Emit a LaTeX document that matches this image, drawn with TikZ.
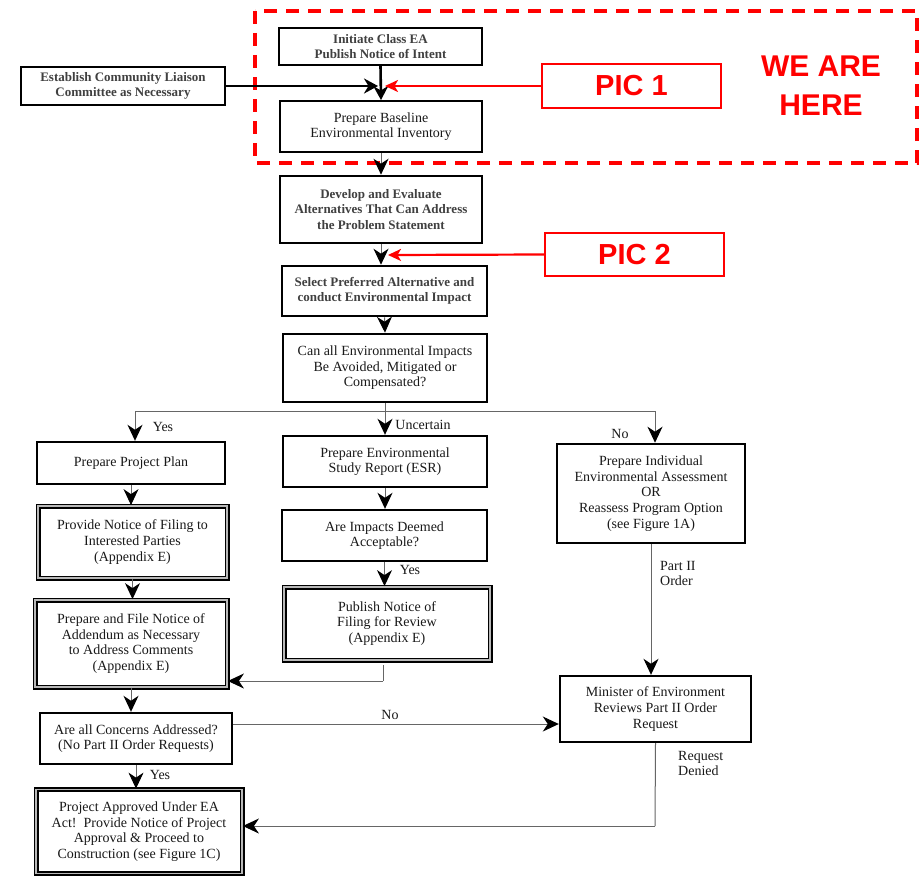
\documentclass[tikz,border=0pt]{standalone}
\usepackage{fontspec}
\setmainfont{Liberation Serif}
\newfontfamily\picfont{Liberation Sans}
\usetikzlibrary{arrows.meta}
\begin{document}
\begin{tikzpicture}[x=1pt,y=-1pt,
  box/.style={draw=black, line width=#1, align=center, inner sep=0pt, text=black!90,
    font=\fontsize{14}{15.6}\selectfont},
  box/.default=2pt,
  bbox/.style={box=#1, font=\fontsize{13}{15.4}\selectfont\bfseries, text=black!75},
  bbox/.default=2pt,
  dbox/.style={draw=black, double=gray!55, double distance=1.4pt, line width=1.8pt,
    align=center, inner sep=0pt, text=black!90, font=\fontsize{14}{15.6}\selectfont},
  sz/.style 2 args={minimum width=#1pt, minimum height=#2pt},
  conn/.style={draw=black!60, line width=1pt},
  arr/.style={conn, -{Stealth[length=16pt,width=15pt,inset=5pt,color=black]}},
  tarr/.style={draw=black, line width=2.6pt, -{Stealth[length=14pt,width=15pt,inset=4.5pt]}},
  rarr/.style={draw=red, line width=2.2pt, -{Stealth[length=13pt,width=12pt,inset=3.5pt]}},
  picbox/.style={draw=red, line width=2pt, text=red, inner sep=0pt,
    font=\picfont\fontsize{29}{34}\selectfont\bfseries},
  lab/.style={inner sep=0pt, text=black!90, font=\fontsize{14}{15}\selectfont, align=left}
]
\useasboundingbox (0,0) rectangle (920,875);
\fill[white] (0,0) rectangle (920,875);

% dashed frame
\draw[red, line width=4pt, dash pattern=on 13pt off 9pt] (255,11) rectangle (917,163);

% nodes
\node[bbox, sz={203}{37}] (init) at (380.5,46.5) {Initiate Class EA\\Publish Notice of Intent};
\node[bbox, sz={204}{38}] (estab) at (123,86) {Establish Community Liaison\\Committee as Necessary};
\node[box, sz={202}{51}] (base) at (381,126.5) {Prepare Baseline\\Environmental Inventory};
\node[bbox=2.6pt, sz={202}{67}] (dev) at (381,209.5) {Develop and Evaluate\\Alternatives That Can Address\\the Problem Statement};
\node[bbox=2.6pt, sz={205}{50}] (sel) at (384.5,291) {Select Preferred Alternative and\\conduct Environmental Impact};
\node[box=2.6pt, sz={204}{68}] (can) at (385,368) {Can all Environmental Impacts\\Be Avoided, Mitigated or\\Compensated?};
\node[box=2.4pt, sz={188}{42}] (plan) at (131,463) {Prepare Project Plan};
\node[dbox, sz={189}{72}] (prov) at (132.5,542) {Provide Notice of Filing to\\Interested Parties\\(Appendix E)};
\node[dbox, sz={192}{87}] (file) at (131,643.5) {Prepare and File Notice of\\Addendum as Necessary\\to Address Comments\\(Appendix E)};
\node[box=2.4pt, sz={192}{51}] (conc) at (136,738.5) {Are all Concerns Addressed?\\(No Part II Order Requests)};
\node[dbox, sz={206}{84}] (appr) at (139,831.5) {Project Approved Under EA\\Act!\ \ Provide Notice of Project\\Approval \& Proceed to\\Construction (see Figure 1C)};
\node[box=2.4pt, sz={204}{51}] (esr) at (385,461.5) {Prepare Environmental\\Study Report (ESR)};
\node[box=2.4pt, sz={205}{51}] (acc) at (384.5,535.5) {Are Impacts Deemed\\Acceptable?};
\node[dbox, sz={206}{73}] (pub) at (387,623.5) {Publish Notice of\\Filing for Review\\(Appendix E)};
\node[box=2.6pt, sz={188}{99}] (ind) at (651,493.5) {Prepare Individual\\Environmental Assessment\\OR\\Reassess Program Option\\(see Figure 1A)};
\node[box=2.4pt, sz={191}{66}] (min) at (655.5,709) {Minister of Environment\\Reviews Part II Order\\Request};

\node[picbox, sz={179}{44}] (pic1) at (631.5,86) {PIC 1};
\node[picbox, sz={179}{43}] (pic2) at (634.5,254.5) {PIC 2};
\node[inner sep=0pt, text=red, align=center, font=\picfont\fontsize{30}{39}\selectfont\bfseries] (here) at (821,86) {WE ARE\\HERE};

% top connectors
\draw[tarr] (init.south) -- (base.north);
\coordinate (ej) at (378,86);
\draw[tarr] (estab.east) -- (ej);
\coordinate (p1j) at (385,86);
\draw[rarr] (pic1.west) -- (p1j);
\draw[arr] (base.south) -- (dev.north);
\draw[arr] (dev.south) -- (sel.north -| dev.south);
\coordinate (p2j) at (388,255);
\draw[rarr] (pic2.west) -- (p2j);
\draw[arr] (sel.south) -- (can.north);

% branch
\coordinate (bl) at (135,411);
\coordinate (br) at (655,411);
\draw[arr] (can.south) -- (esr.north);
\draw[conn] (bl) -- (br);
\draw[arr] (bl) -- (bl |- plan.north);
\draw[arr] (br) -- (br |- ind.north);
\node[lab] (yes1) at (163,427) {Yes};
\node[lab] (unc) at (423,425) {Uncertain};
\node[lab] (no1) at (620,434) {No};

% left column
\draw[arr] (plan.south) -- (prov.north -| plan.south);
\draw[arr] (prov.south) -- (file.north -| prov.south);
\draw[arr] (file.south) -- (conc.north -| file.south);
\draw[arr] (conc.south) -- (appr.north -| conc.south);
\node[lab] (yes3) at (160,775) {Yes};

% middle column
\draw[arr] (esr.south) -- (acc.north -| esr.south);
\draw[arr] (acc.south) -- (pub.north -| acc.south);
\node[lab] (yes2) at (410,570) {Yes};
\coordinate (pt) at (383,665);
\coordinate (pj) at (383,681);
\draw[conn] (pt) -- (pj);
\draw[arr] (pj) -- (pj -| file.east);

% right column
\draw[arr] (ind.south) -- (min.north -| ind.south);
\node[lab, anchor=north west] (p2o) at (660,561) {Part II\\Order};
\coordinate (noy) at (400,724);
\draw[arr] (noy -| conc.east) -- (noy -| min.west);
\node[lab] (no2) at (390,715) {No};
\coordinate (rd) at (655,826);
\draw[conn] (min.south) -- (rd);
\draw[arr] (rd) -- (rd -| appr.east);
\node[lab, anchor=north west] (rqd) at (678,751) {Request\\Denied};
\end{tikzpicture}
\end{document}
